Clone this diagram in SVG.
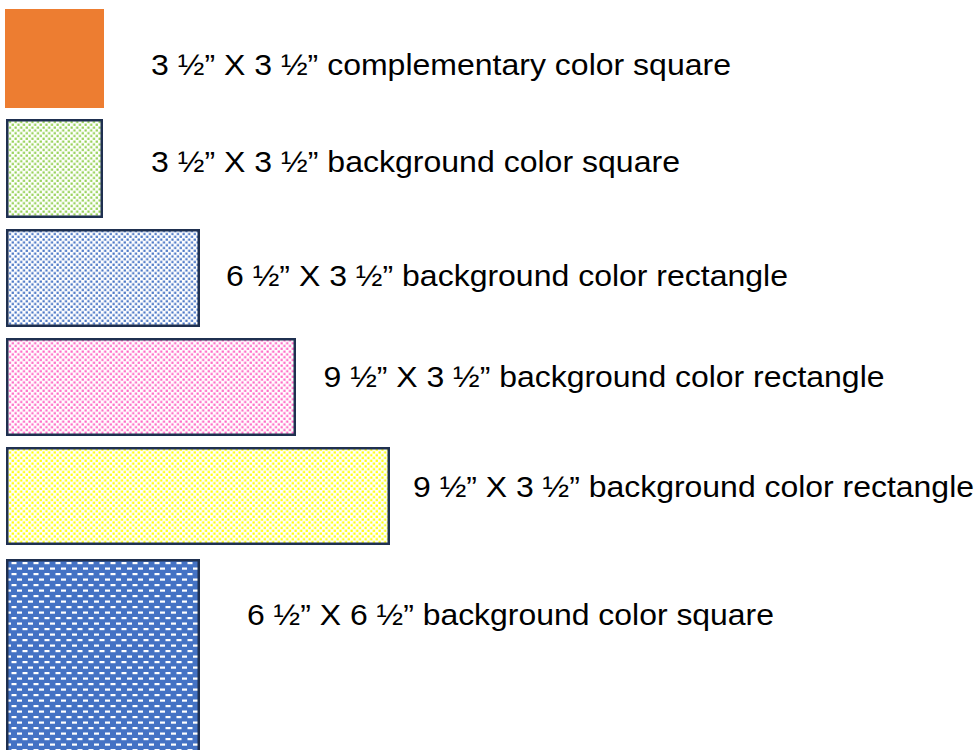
<svg xmlns="http://www.w3.org/2000/svg" width="979" height="750" viewBox="0 0 979 750">
<style>
.lbl{font-family:"Liberation Sans",Arial,sans-serif;font-size:29px;fill:#000}
.box{stroke:#1f3050;stroke-width:2.5}
</style>
<defs>
<pattern id="pGreen" width="5.6" height="5.6" patternUnits="userSpaceOnUse">
<rect width="5.6" height="5.6" fill="#fff"/>
<rect x="0.5" y="0.5" width="2.2" height="2.2" fill="#92d050"/>
<rect x="3.3" y="3.3" width="2.2" height="2.2" fill="#92d050"/>
</pattern>
<pattern id="pBlue" width="5.6" height="5.6" patternUnits="userSpaceOnUse">
<rect width="5.6" height="5.6" fill="#fff"/>
<rect x="0.5" y="0.5" width="2.2" height="2.2" fill="#4472c4"/>
<rect x="3.3" y="3.3" width="2.2" height="2.2" fill="#4472c4"/>
</pattern>
<pattern id="pPink" width="5.6" height="5.6" patternUnits="userSpaceOnUse">
<rect width="5.6" height="5.6" fill="#fff"/>
<rect x="0.5" y="0.5" width="2.2" height="2.2" fill="#ff66c4"/>
<rect x="3.3" y="3.3" width="2.2" height="2.2" fill="#ff66c4"/>
</pattern>
<pattern id="pYellow" width="5.6" height="5.6" patternUnits="userSpaceOnUse">
<rect width="5.6" height="5.6" fill="#fff"/>
<rect x="0.5" y="0.5" width="2.2" height="2.2" fill="#ffff00"/>
<rect x="3.3" y="3.3" width="2.2" height="2.2" fill="#ffff00"/>
</pattern>
<pattern id="pBrick" width="11" height="11" patternUnits="userSpaceOnUse">
<rect width="11" height="11" fill="#4472c4"/>
<rect x="0.5" y="1" width="5" height="2.2" fill="#fff"/>
<rect x="6" y="6.5" width="5" height="2.2" fill="#fff"/>
</pattern>
</defs>
<g id="n1">
<rect x="5" y="9" width="99" height="99" fill="#ed7d31"/>
<text class="lbl" x="151" y="75" textLength="580" lengthAdjust="spacingAndGlyphs">3 ½” X 3 ½” complementary color square</text>
</g>
<g id="n2">
<rect class="box" x="7.25" y="120.25" width="94.5" height="96.5" fill="url(#pGreen)"/>
<text class="lbl" x="151" y="172" textLength="529" lengthAdjust="spacingAndGlyphs">3 ½” X 3 ½” background color square</text>
</g>
<g id="n3">
<rect class="box" x="7.25" y="230.25" width="191.5" height="95.5" fill="url(#pBlue)"/>
<text class="lbl" x="226" y="286" textLength="562" lengthAdjust="spacingAndGlyphs">6 ½” X 3 ½” background color rectangle</text>
</g>
<g id="n4">
<rect class="box" x="7.25" y="339.25" width="287.5" height="95.5" fill="url(#pPink)"/>
<text class="lbl" x="323.5" y="387" textLength="561" lengthAdjust="spacingAndGlyphs">9 ½” X 3 ½” background color rectangle</text>
</g>
<g id="n5">
<rect class="box" x="7.25" y="448.25" width="381.5" height="95.5" fill="url(#pYellow)"/>
<text class="lbl" x="413" y="497" textLength="561" lengthAdjust="spacingAndGlyphs">9 ½” X 3 ½” background color rectangle</text>
</g>
<g id="n6">
<rect class="box" x="7.25" y="560.25" width="191.5" height="200" fill="url(#pBrick)"/>
<text class="lbl" x="247" y="625" textLength="527" lengthAdjust="spacingAndGlyphs">6 ½” X 6 ½” background color square</text>
</g>
<g id="connectors"/>
</svg>
